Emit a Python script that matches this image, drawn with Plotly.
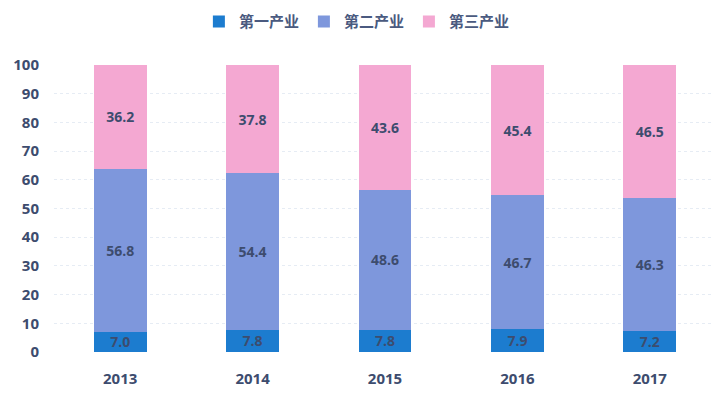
import plotly.graph_objects as go

years = ["2013", "2014", "2015", "2016", "2017"]
primary = [7.0, 7.8, 7.8, 7.9, 7.2]
secondary = [56.8, 54.4, 48.6, 46.7, 46.3]
tertiary = [36.2, 37.8, 43.6, 45.4, 46.5]
names = ["第一产业", "第二产业", "第三产业"]
colors = ["#1c7ccf", "#7e97dc", "#f4a8d2"]
y_ticks = [0, 10, 20, 30, 40, 50, 60, 70, 80, 90, 100]

font_family = "Open Sans, Noto Sans CJK SC, sans-serif"
text_color = "#3d4c6e"

fig = go.Figure()
for name, vals, col in zip(names, [primary, secondary, tertiary], colors):
    fig.add_trace(go.Bar(
        x=years, y=vals, name=name, marker=dict(color=col, line=dict(width=0)),
        text=[f"{v:.1f}" for v in vals], textposition="inside",
        insidetextanchor="middle", textangle=0, constraintext="none",
        textfont=dict(size=14, color=text_color, family=font_family, weight="bold"),
    ))

fig.update_layout(
    barmode="stack", bargap=0.6,
    width=712, height=390,
    margin=dict(l=46, r=4, t=57, b=46, autoexpand=False),
    plot_bgcolor="white", paper_bgcolor="white",
    font=dict(family=font_family, color=text_color),
    legend=dict(orientation="h", x=0.49, xanchor="center", xref="container",
                y=0.965, yanchor="middle", yref="container",
                font=dict(size=15, color="#4a5a80", family="Noto Sans CJK SC", weight="bold"),
                traceorder="normal", itemwidth=30),
    xaxis=dict(showgrid=False, showline=False, ticks="", ticklabelstandoff=16,
               tickfont=dict(size=15, color=text_color, family=font_family, weight="bold")),
    yaxis=dict(range=[0, 100], tickvals=y_ticks, showgrid=True, gridcolor="#e6ecf4",
               griddash="dot", zeroline=False, showline=False, ticks="", ticklabelstandoff=14,
               tickfont=dict(size=15, color=text_color, family=font_family, weight="bold")),
)
fig.write_html("out.html")
